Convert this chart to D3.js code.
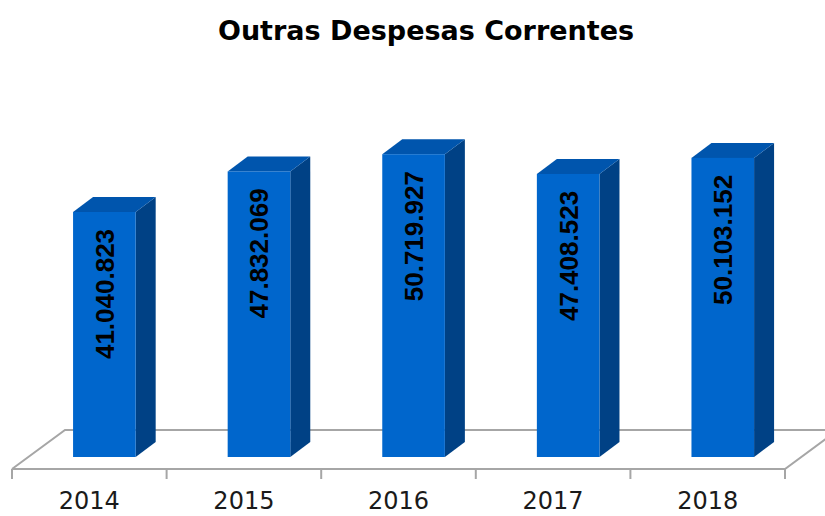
<!DOCTYPE html>
<html>
<head>
<meta charset="utf-8">
<script src="https://cdn.jsdelivr.net/npm/d3@7"></script>
<style>
  body { margin: 0; background: #fff; }
  svg { display: block; }
</style>
</head>
<body>
<svg id="svg" width="825" height="516"></svg>
<script>
var title = "Outras Despesas Correntes";
var years = ["2014", "2015", "2016", "2017", "2018"];
var values = [41040823, 47832069, 50719927, 47408523, 50103152];

var svg = d3.select("#svg");

// floor / 3d geometry
var floorFront = 469, floorDepth = { dx: 53, dy: -39 };
var baseY = 457;                 // bottom of bar front face
var barDepth = { dx: 20, dy: -15 };

var x = d3.scaleBand()
  .domain(years)
  .range([12, 785]);

var y = d3.scaleLinear()
  .domain([0, 50000000])
  .range([baseY, baseY - 298.5]);

var fmt = d3.formatLocale({ decimal: ",", thousands: ".", grouping: [3], currency: ["R$", ""] }).format(",d");

// title
svg.append("text")
  .attr("x", 426)
  .attr("y", 40)
  .attr("text-anchor", "middle")
  .style("font-family", "'DejaVu Sans', sans-serif")
  .style("font-weight", "bold")
  .style("font-size", "27px")
  .attr("fill", "#000")
  .text(title);

// floor
var x0 = x.range()[0], x1 = x.range()[1];
var floor = svg.append("g")
  .attr("fill", "none")
  .attr("stroke", "#a6a6a6")
  .attr("stroke-width", 2);

floor.append("path")
  .attr("d", "M" + x0 + "," + floorFront +
    " L" + (x0 + floorDepth.dx) + "," + (floorFront + floorDepth.dy) +
    " L" + (x1 + floorDepth.dx) + "," + (floorFront + floorDepth.dy) +
    " M" + x0 + "," + floorFront +
    " L" + x1 + "," + floorFront +
    " L" + (x1 + floorDepth.dx) + "," + (floorFront + floorDepth.dy));

// x axis ticks at category boundaries
var bounds = years.map(function (d) { return x(d); }).concat([x1]);
floor.selectAll("line.tick")
  .data(bounds)
  .enter()
  .append("line")
  .attr("class", "tick")
  .attr("x1", function (d) { return d; })
  .attr("x2", function (d) { return d; })
  .attr("y1", floorFront)
  .attr("y2", floorFront + 10);

svg.selectAll("text.year")
  .data(years)
  .enter()
  .append("text")
  .attr("class", "year")
  .attr("x", function (d) { return x(d) + x.bandwidth() / 2; })
  .attr("y", 509)
  .attr("text-anchor", "middle")
  .style("font-family", "'DejaVu Sans', sans-serif")
  .style("font-size", "24px")
  .attr("fill", "#1a1a1a")
  .text(function (d) { return d; });

// bars
var bw = x.bandwidth();
var data = years.map(function (d, i) { return { year: d, value: values[i] }; });

var bars = svg.selectAll("g.bar")
  .data(data)
  .enter()
  .append("g")
  .attr("class", "bar");

function left(d) { return x(d.year) + bw * 0.395; }
function right(d) { return left(d) + bw * 0.405; }

// side face
bars.append("path")
  .attr("fill", "#004185")
  .attr("d", function (d) {
    var r = right(d), t = y(d.value);
    return "M" + r + "," + baseY +
      " L" + (r + barDepth.dx) + "," + (baseY + barDepth.dy) +
      " L" + (r + barDepth.dx) + "," + (t + barDepth.dy) +
      " L" + r + "," + t + "Z";
  });

// top face
bars.append("path")
  .attr("fill", "#0055ad")
  .attr("d", function (d) {
    var l = left(d), r = right(d), t = y(d.value);
    return "M" + l + "," + t +
      " L" + (l + barDepth.dx) + "," + (t + barDepth.dy) +
      " L" + (r + barDepth.dx) + "," + (t + barDepth.dy) +
      " L" + r + "," + t + "Z";
  });

// front face
bars.append("rect")
  .attr("x", left)
  .attr("y", function (d) { return y(d.value); })
  .attr("width", function (d) { return right(d) - left(d); })
  .attr("height", function (d) { return baseY - y(d.value); })
  .attr("fill", "#0066cc");

// value labels
bars.append("text")
  .attr("transform", function (d) {
    var cx = (left(d) + right(d)) / 2;
    var cy = y(d.value) + 82;
    return "translate(" + cx + "," + cy + ") rotate(-90)";
  })
  .attr("text-anchor", "middle")
  .attr("dy", "0.36em")
  .style("font-family", "'Liberation Sans', Arial, sans-serif")
  .style("font-weight", "bold")
  .style("font-size", "26px")
  .attr("fill", "#000")
  .text(function (d) { return fmt(d.value); });
</script>
</body>
</html>
